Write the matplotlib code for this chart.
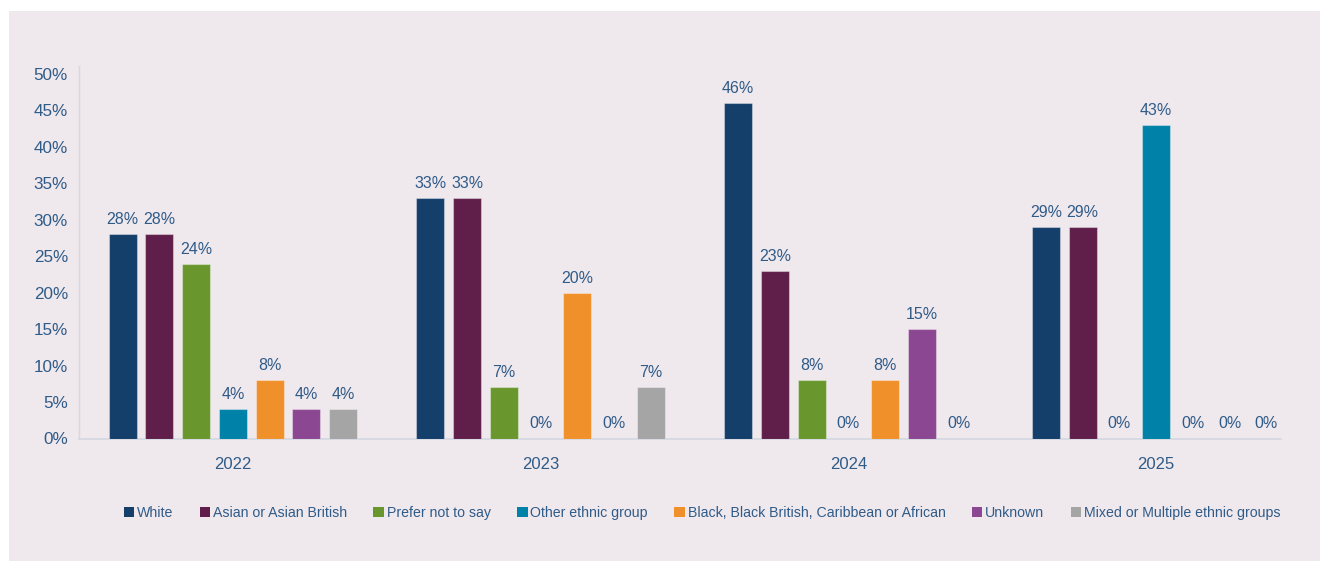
import matplotlib
matplotlib.use("Agg")
import matplotlib.pyplot as plt
from matplotlib.patches import Rectangle
import numpy as np

years = ["2022", "2023", "2024", "2025"]
groups = ["White", "Asian or Asian British", "Prefer not to say", "Other ethnic group",
          "Black, Black British, Caribbean or African", "Unknown",
          "Mixed or Multiple ethnic groups"]
white = [28, 33, 46, 29]
asian = [28, 33, 23, 29]
prefer_not = [24, 7, 8, 0]
other = [4, 0, 0, 43]
black = [8, 20, 8, 0]
unknown = [4, 0, 15, 0]
mixed = [4, 7, 0, 0]
series = [white, asian, prefer_not, other, black, unknown, mixed]
colors = ["#143f6b", "#5f1f4a", "#6a972d", "#0081a7", "#f0902a", "#8b4791", "#a5a5a5"]
yticks = [0, 5, 10, 15, 20, 25, 30, 35, 40, 45, 50]

TXT = "#2f5b88"
BG = "#efe8ed"
plt.rcParams["font.family"] = ["Liberation Sans", "DejaVu Sans"]

fig = plt.figure(figsize=(13.22, 5.61), dpi=100)
fig.patch.set_facecolor("white")
fig.patches.append(Rectangle((9 / 1322, 0), 1311 / 1322, 550 / 561,
                             transform=fig.transFigure, facecolor=BG,
                             edgecolor="none", zorder=-10))

W, H = 1322, 561
ax = fig.add_axes([79 / W, (H - 438.5) / H, (1310 - 79) / W, (438.5 - 66) / H])
ax.set_facecolor("none")
ax.set_zorder(2)

x = np.arange(len(years))
step = 0.1193
bw = 0.091
for i, (vals, col) in enumerate(zip(series, colors)):
    xs = x + (i - 3) * step
    ax.bar(xs, vals, width=bw, color=col, edgecolor=(1, 1, 1, 0.35),
           linewidth=0.8, label=groups[i], zorder=3)
    for xi, v in zip(xs, vals):
        ax.annotate(f"{v}%", (xi, v), xytext=(0, 10), textcoords="offset pixels",
                    ha="center", va="baseline", fontsize=11.5, color=TXT)

ax.set_xlim(-0.5, 3.5)
ax.set_ylim(0, 51.1)
ax.set_yticks(yticks)
ax.set_yticklabels([f"{t}%" for t in yticks])
ax.set_xticks(x)
ax.set_xticklabels(years)
ax.tick_params(axis="y", length=0, pad=8, labelsize=12.3, labelcolor=TXT)
ax.tick_params(axis="x", length=0, pad=13, labelsize=12, labelcolor=TXT)
for s in ["top", "right"]:
    ax.spines[s].set_visible(False)
ax.spines["left"].set_color("#d3d8e2")
ax.spines["bottom"].set_color("#d3d8e2")
ax.spines["left"].set_linewidth(1)
ax.spines["bottom"].set_linewidth(1.2)
ax.spines["bottom"].set_bounds(-0.5, 3.406)

leg = fig.legend(loc="center", bbox_to_anchor=(702 / W, (H - 513) / H), ncol=7,
                 frameon=False, fontsize=10.2, handlelength=0.75, handleheight=0.75,
                 handletextpad=0.2, columnspacing=1.85, labelcolor=TXT)
for h in leg.legend_handles:
    h.set_edgecolor("none")

fig.savefig("out.png", dpi=100, facecolor=fig.get_facecolor())
